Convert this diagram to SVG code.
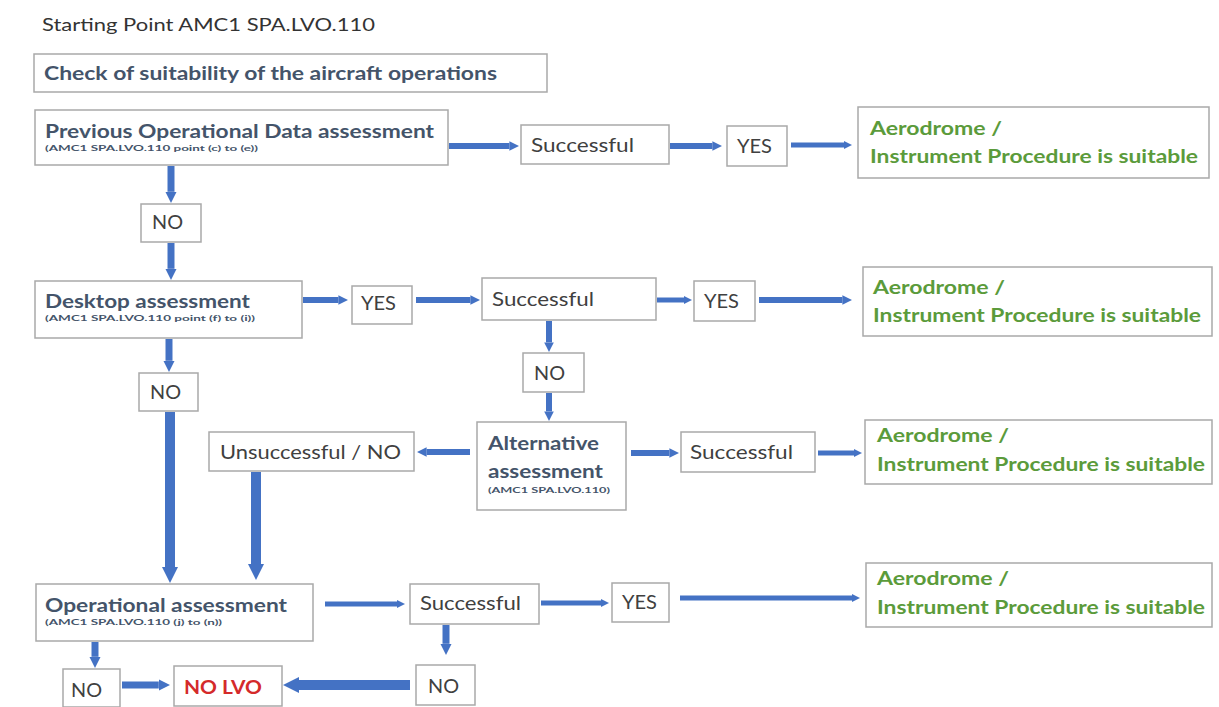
<svg xmlns="http://www.w3.org/2000/svg" width="1219" height="707" viewBox="0 0 1219 707">
<style>
.box{fill:#fff;stroke:#a9a9a9;stroke-width:1.5}
text{font-family:Lato,"Open Sans","Liberation Sans",sans-serif}
.t{font-size:19px;fill:#404040}
.hd{font-size:19px;fill:#44546a;font-weight:bold}
.sm{font-size:7.5px;fill:#44546a;font-weight:bold}
.ok{font-size:19px;fill:#5b9b3b;font-weight:bold}
.red{font-size:19px;fill:#d42a2a;font-weight:bold}
.title{font-size:18px;fill:#333}
.c{fill:none;stroke:#4472c4;marker-end:url(#ah)}
</style>
<defs>
<marker id="ah" viewBox="0 0 10 10" refX="0" refY="5" markerWidth="1.6" markerHeight="2.4" orient="auto" markerUnits="strokeWidth">
<path d="M0,0 L10,5 L0,10 z" fill="#4472c4"/>
</marker>
</defs>
<rect width="1219" height="707" fill="#fff"/>
<text class="title" x="42" y="31" textLength="333" lengthAdjust="spacingAndGlyphs">Starting Point AMC1 SPA.LVO.110</text>

<g id="check">
<rect class="box" x="34" y="54" width="513" height="38"/>
<text class="hd" x="44" y="80" textLength="453" lengthAdjust="spacingAndGlyphs">Check of suitability of the aircraft operations</text>
</g>

<g id="previous">
<rect class="box" x="35" y="110" width="413" height="55"/>
<text class="hd" x="45" y="138" textLength="389" lengthAdjust="spacingAndGlyphs">Previous Operational Data assessment</text>
<text class="sm" x="45" y="151" textLength="213" lengthAdjust="spacingAndGlyphs">(AMC1 SPA.LVO.110 point (c) to (e))</text>
</g>
<g id="succ1"><rect class="box" x="521" y="125" width="148" height="39"/><text class="t" x="531" y="152" textLength="103" lengthAdjust="spacingAndGlyphs">Successful</text></g>
<g id="yes1"><rect class="box" x="727" y="126" width="60" height="40"/><text class="t" x="737" y="153" textLength="35" lengthAdjust="spacingAndGlyphs">YES</text></g>
<g id="ok1"><rect class="box" x="858" y="107" width="351" height="71"/><text class="ok" x="870" y="135" textLength="132" lengthAdjust="spacingAndGlyphs">Aerodrome /</text><text class="ok" x="870" y="163" textLength="328" lengthAdjust="spacingAndGlyphs">Instrument Procedure is suitable</text></g>

<g id="no1"><rect class="box" x="141" y="204" width="60" height="38"/><text class="t" x="152" y="229" textLength="31" lengthAdjust="spacingAndGlyphs">NO</text></g>

<g id="desktop">
<rect class="box" x="35" y="281" width="267" height="57"/>
<text class="hd" x="45" y="308" textLength="205" lengthAdjust="spacingAndGlyphs">Desktop assessment</text>
<text class="sm" x="45" y="321" textLength="210" lengthAdjust="spacingAndGlyphs">(AMC1 SPA.LVO.110 point (f) to (i))</text>
</g>
<g id="yes2a"><rect class="box" x="352" y="286" width="60" height="38"/><text class="t" x="361" y="310" textLength="35" lengthAdjust="spacingAndGlyphs">YES</text></g>
<g id="succ2"><rect class="box" x="482" y="278" width="174" height="42"/><text class="t" x="492" y="306" textLength="102" lengthAdjust="spacingAndGlyphs">Successful</text></g>
<g id="yes2b"><rect class="box" x="694" y="281" width="61" height="40"/><text class="t" x="704" y="308" textLength="35" lengthAdjust="spacingAndGlyphs">YES</text></g>
<g id="ok2"><rect class="box" x="863" y="267" width="349" height="69"/><text class="ok" x="873" y="294" textLength="132" lengthAdjust="spacingAndGlyphs">Aerodrome /</text><text class="ok" x="873" y="322" textLength="328" lengthAdjust="spacingAndGlyphs">Instrument Procedure is suitable</text></g>

<g id="no2"><rect class="box" x="523" y="353" width="61" height="39"/><text class="t" x="534" y="380" textLength="31" lengthAdjust="spacingAndGlyphs">NO</text></g>
<g id="no3"><rect class="box" x="139" y="373" width="59" height="38"/><text class="t" x="150" y="399" textLength="31" lengthAdjust="spacingAndGlyphs">NO</text></g>

<g id="alternative">
<rect class="box" x="477" y="422" width="149" height="88"/>
<text class="hd" x="488" y="450" textLength="111" lengthAdjust="spacingAndGlyphs">Alternative</text>
<text class="hd" x="488" y="478" textLength="115" lengthAdjust="spacingAndGlyphs">assessment</text>
<text class="sm" x="488" y="493" textLength="122" lengthAdjust="spacingAndGlyphs">(AMC1 SPA.LVO.110)</text>
</g>
<g id="unsucc"><rect class="box" x="209" y="432" width="205" height="39"/><text class="t" x="220" y="459" textLength="181" lengthAdjust="spacingAndGlyphs">Unsuccessful / NO</text></g>
<g id="succ3"><rect class="box" x="681" y="432" width="134" height="40"/><text class="t" x="690" y="459" textLength="103" lengthAdjust="spacingAndGlyphs">Successful</text></g>
<g id="ok3"><rect class="box" x="865" y="420" width="347" height="64"/><text class="ok" x="877" y="442" textLength="132" lengthAdjust="spacingAndGlyphs">Aerodrome /</text><text class="ok" x="877" y="471" textLength="328" lengthAdjust="spacingAndGlyphs">Instrument Procedure is suitable</text></g>

<g id="operational">
<rect class="box" x="36" y="584" width="277" height="57"/>
<text class="hd" x="45" y="612" textLength="242" lengthAdjust="spacingAndGlyphs">Operational assessment</text>
<text class="sm" x="45" y="625" textLength="177" lengthAdjust="spacingAndGlyphs">(AMC1 SPA.LVO.110 (j) to (n))</text>
</g>
<g id="succ4"><rect class="box" x="410" y="584" width="129" height="40"/><text class="t" x="420" y="610" textLength="101" lengthAdjust="spacingAndGlyphs">Successful</text></g>
<g id="yes4"><rect class="box" x="612" y="583" width="57" height="39"/><text class="t" x="622" y="609" textLength="35" lengthAdjust="spacingAndGlyphs">YES</text></g>
<g id="ok4"><rect class="box" x="866" y="563" width="346" height="64"/><text class="ok" x="877" y="585" textLength="132" lengthAdjust="spacingAndGlyphs">Aerodrome /</text><text class="ok" x="877" y="614" textLength="328" lengthAdjust="spacingAndGlyphs">Instrument Procedure is suitable</text></g>

<g id="no4"><rect class="box" x="63" y="669" width="57" height="38"/><text class="t" x="71" y="697" textLength="31" lengthAdjust="spacingAndGlyphs">NO</text></g>
<g id="nolvo"><rect class="box" x="174" y="666" width="108" height="40"/><text class="red" x="184" y="694" textLength="78" lengthAdjust="spacingAndGlyphs">NO LVO</text></g>
<g id="no5"><rect class="box" x="416" y="665" width="59" height="40"/><text class="t" x="428" y="693" textLength="31" lengthAdjust="spacingAndGlyphs">NO</text></g>

<g id="connectors">
<path class="c" stroke-width="6" d="M449,146 H509.4"/>
<path class="c" stroke-width="6" d="M670,146 H712.4"/>
<path class="c" stroke-width="5" d="M791,145 H844"/>
<path class="c" stroke-width="7" d="M171,166 V191.8"/>
<path class="c" stroke-width="7" d="M171,243 V268.8"/>
<path class="c" stroke-width="6" d="M303,300 H338.4"/>
<path class="c" stroke-width="6" d="M416,300 H470.4"/>
<path class="c" stroke-width="5" d="M657,300 H684"/>
<path class="c" stroke-width="6" d="M759,300 H842.4"/>
<path class="c" stroke-width="6" d="M549,321 V342.4"/>
<path class="c" stroke-width="6" d="M549,393 V411.4"/>
<path class="c" stroke-width="6" d="M470,452 H426.6"/>
<path class="c" stroke-width="6" d="M631,453 H669.4"/>
<path class="c" stroke-width="5" d="M818,453 H854"/>
<path class="c" stroke-width="7" d="M169,339 V360.8"/>
<path class="c" stroke-width="10" d="M170,412 V567"/>
<path class="c" stroke-width="10" d="M256,472 V564"/>
<path class="c" stroke-width="5" d="M325,604 H397"/>
<path class="c" stroke-width="5" d="M541,603 H601"/>
<path class="c" stroke-width="5" d="M680,598 H852"/>
<path class="c" stroke-width="7" d="M95,642 V656.8"/>
<path class="c" stroke-width="7" d="M122,685 H158.8"/>
<path class="c" stroke-width="10" d="M410,685 H299"/>
<path class="c" stroke-width="7" d="M446,625 V643.8"/>
</g>
</svg>
